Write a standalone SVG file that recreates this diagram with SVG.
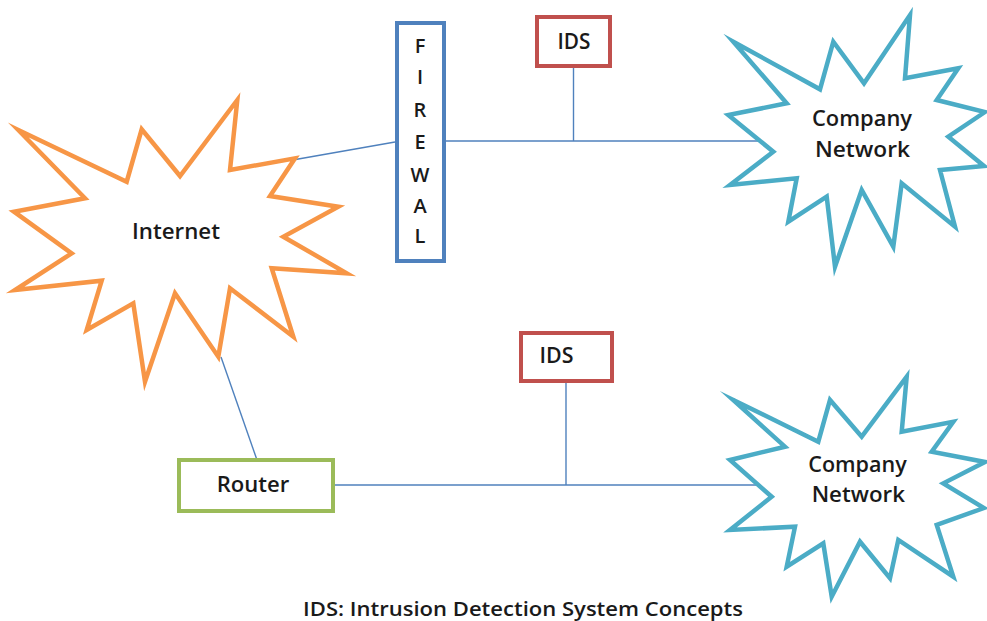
<svg xmlns="http://www.w3.org/2000/svg" width="987" height="621" viewBox="0 0 987 621">
<style>
.bg{fill:#fff}
.burst{fill:#fff;stroke-width:4.5;stroke-linejoin:miter;stroke-miterlimit:10}
.orange{stroke:#f79646}
.teal{stroke:#4bacc6}
.box{fill:#fff;stroke-width:4}
.conn{stroke:#4f81bd;stroke-width:1.4;fill:none}
.lbl{font-family:"Open Sans","Liberation Sans",sans-serif;font-weight:600;font-size:21px;fill:#1a1a1a;text-anchor:middle}
.cap{font-family:"Open Sans","Liberation Sans",sans-serif;font-weight:600;font-size:20px;fill:#1a1a1a;text-anchor:middle}
.fw{font-family:"Open Sans","Liberation Sans",sans-serif;font-weight:600;font-size:20px;fill:#1a1a1a;text-anchor:middle}
</style>
<rect class="bg" x="0" y="0" width="987" height="621"/>
<g id="connectors">
<line class="conn" x1="287" y1="161" x2="395" y2="142"/>
<line class="conn" x1="446" y1="141" x2="760" y2="141"/>
<line class="conn" x1="573.5" y1="67" x2="573.5" y2="141"/>
<line class="conn" x1="221" y1="357" x2="257" y2="460"/>
<line class="conn" x1="335" y1="485" x2="760" y2="485"/>
<line class="conn" x1="566" y1="382" x2="566" y2="485"/>
</g>
<g id="internet">
<polygon class="burst orange" points="18.3,130 126.7,181.7 141.7,129.3 180,176 237.3,100 230,170 295,158.3 270,196 338.3,206.7 283.3,236.7 346.7,273.3 271.7,268.3 293.3,336.7 230,288.3 218.3,356.7 175,293.3 145,381.7 133.3,303.3 86.7,330 101.7,280.7 15,290 71.7,253.3 14,211.7 85,198.3"/>
<text class="lbl" x="176" y="238.5" textLength="88" lengthAdjust="spacingAndGlyphs">Internet</text>
</g>
<g id="firewall">
<rect class="box" x="397" y="23" width="47" height="238" style="stroke:#4f81bd"/>
<text class="fw" x="420" y="53.3">F</text>
<text class="fw" x="420" y="84">I</text>
<text class="fw" x="420" y="117.3">R</text>
<text class="fw" x="420" y="149.3">E</text>
<text class="fw" x="420" y="181.7">W</text>
<text class="fw" x="420" y="213.3">A</text>
<text class="fw" x="420" y="243.3">L</text>
</g>
<g id="ids-top">
<rect class="box" x="537" y="17" width="73" height="49" style="stroke:#c0504d"/>
<text class="lbl" x="574" y="49" textLength="33" lengthAdjust="spacingAndGlyphs">IDS</text>
</g>
<g id="company-top">
<polygon class="burst teal" points="733.3,41.7 820,89.3 833.3,41.7 864,83.3 910,15 905,78.3 958.3,68.3 936.7,100 985,112 948.3,136.7 984,166 940,170 955,226.7 901.7,183.3 893.3,246.7 861.7,190 835,266.7 826.7,196.7 788.3,221.7 796.7,178.3 730,185 773.3,151.7 728.3,115 786.7,103.3"/>
<text class="lbl" x="862" y="126" textLength="100" lengthAdjust="spacingAndGlyphs">Company</text>
<text class="lbl" x="862.5" y="156.7" textLength="95" lengthAdjust="spacingAndGlyphs">Network</text>
</g>
<g id="ids-bottom">
<rect class="box" x="521" y="333" width="91" height="48" style="stroke:#c0504d"/>
<text class="lbl" x="556.5" y="362.5" textLength="34" lengthAdjust="spacingAndGlyphs">IDS</text>
</g>
<g id="router">
<rect class="box" x="179" y="460" width="154" height="51" style="stroke:#9bbb59"/>
<text class="lbl" x="253" y="491.5" textLength="72.6" lengthAdjust="spacingAndGlyphs">Router</text>
</g>
<g id="company-bottom">
<polygon class="burst teal" points="733.3,400 818.3,441.7 830,400 861.7,436.7 906.7,376.7 901.7,431.7 953.3,421.7 931.7,451.7 985,462 943.3,483.3 984,508 936.7,525 953.3,576.7 898.3,540 890,578.3 860,541.7 831.7,596.7 823.3,543.3 786.7,566.7 795,526.7 730,530 771.7,496.7 730,460 785,446.7"/>
<text class="lbl" x="857.5" y="471.7" textLength="98.4" lengthAdjust="spacingAndGlyphs">Company</text>
<text class="lbl" x="858.3" y="501.5" textLength="93.3" lengthAdjust="spacingAndGlyphs">Network</text>
</g>
<g id="caption">
<text class="cap" x="523" y="615.5" textLength="440" lengthAdjust="spacingAndGlyphs">IDS: Intrusion Detection System Concepts</text>
</g>
</svg>
